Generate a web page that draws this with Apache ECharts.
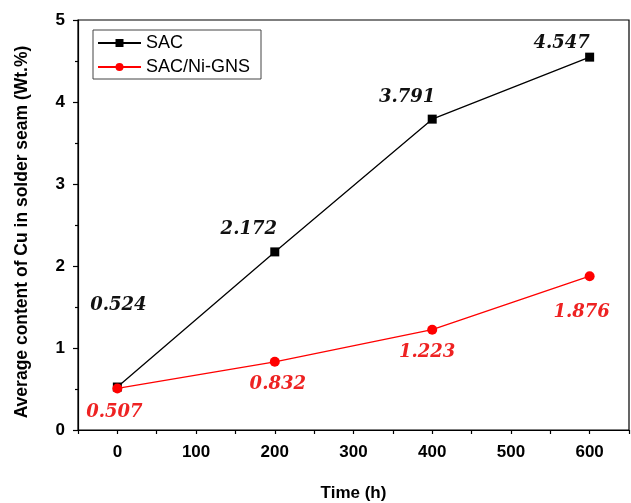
<!DOCTYPE html>
<html>
<head>
<meta charset="utf-8">
<script src="https://cdn.jsdelivr.net/npm/echarts@6/dist/echarts.min.js"></script>
<style>
  html, body { margin: 0; padding: 0; background: #fff; }
  #main { width: 631px; height: 503px; }
</style>
</head>
<body>
<div id="main"></div>
<script>
// data
var times = [0, 200, 400, 600];
var sac = [0.524, 2.172, 3.791, 4.547];
var sacNi = [0.507, 0.832, 1.223, 1.876];
var seriesNames = ['SAC', 'SAC/Ni-GNS'];

// label offsets (px) relative to each point
var sacOffsets = [[1, -82], [-26, -23], [-25, -22], [-28, -14]];
var niOffsets = [[-3, 24], [3, 23], [-5, 23], [-8, 36]];

var tickFont = "'Liberation Sans Narrow', 'Liberation Sans', Arial, sans-serif";

function pts(xs, ys, offs, color) {
    var out = [];
    for (var i = 0; i < xs.length; i++) {
        out.push({
            value: [xs[i], ys[i]],
            label: {
                show: true,
                position: 'inside',
                offset: offs[i],
                formatter: ys[i].toFixed(3),
                color: color,
                fontFamily: 'DejaVu Serif',
                fontStyle: 'italic',
                fontWeight: 'bold',
                fontSize: 18
            }
        });
    }
    return out;
}

var myChart = echarts.init(document.getElementById('main'));
var option = {
    backgroundColor: '#fff',
    animation: false,
    grid: {
        left: 78,
        right: 2,
        top: 20,
        bottom: 73,
        outerBoundsMode: 'none',
        show: true,
        borderColor: '#000',
        borderWidth: 1.2
    },
    legend: {
        orient: 'vertical',
        left: 93,
        top: 30,
        data: seriesNames,
        borderColor: '#444',
        borderWidth: 1,
        padding: [4, 11, 3, 4],
        itemWidth: 43,
        itemHeight: 10,
        itemGap: 6,
        textStyle: {
            fontFamily: 'Liberation Sans',
            fontSize: 18,
            color: '#000'
        }
    },
    xAxis: {
        type: 'value',
        min: -50,
        max: 650,
        interval: 50,
        name: 'Time (h)',
        nameLocation: 'middle',
        nameGap: 55,
        nameTextStyle: {
            fontFamily: 'Liberation Sans',
            fontWeight: 'bold',
            fontSize: 17,
            color: '#000'
        },
        axisLine: { onZero: false, lineStyle: { color: '#000', width: 1.2 } },
        axisTick: { length: 4, lineStyle: { color: '#000', width: 1.2 } },
        axisLabel: {
            margin: 14,
            fontFamily: tickFont,
            fontWeight: 'bold',
            fontSize: 17,
            color: '#000',
            formatter: function (v) { return v % 100 === 0 ? String(v) : ''; }
        },
        splitLine: { show: false }
    },
    yAxis: {
        type: 'value',
        min: 0,
        max: 5,
        interval: 1,
        name: 'Average content of Cu in solder seam (Wt.%)',
        nameLocation: 'middle',
        nameGap: 47,
        nameTextStyle: {
            fontFamily: 'Liberation Sans',
            fontWeight: 'bold',
            fontSize: 17.5,
            color: '#000',
            padding: [0, 14, 0, 0]
        },
        axisLine: { show: true, onZero: false, lineStyle: { color: '#000', width: 1.2 } },
        axisTick: { length: 5, lineStyle: { color: '#000', width: 1.2 } },
        minorTick: { show: true, splitNumber: 2, length: 3, lineStyle: { color: '#000', width: 1.2 } },
        axisLabel: {
            margin: 13,
            fontFamily: tickFont,
            fontWeight: 'bold',
            fontSize: 17,
            color: '#000'
        },
        splitLine: { show: false },
        minorSplitLine: { show: false }
    },
    series: [
        {
            name: seriesNames[0],
            type: 'line',
            data: pts(times, sac, sacOffsets, '#111'),
            symbol: 'rect',
            symbolSize: 9,
            itemStyle: { color: '#000' },
            lineStyle: { color: '#000', width: 1.3 }
        },
        {
            name: seriesNames[1],
            type: 'line',
            data: pts(times, sacNi, niOffsets, '#ee2222'),
            symbol: 'circle',
            symbolSize: 10,
            itemStyle: { color: '#ff0000' },
            lineStyle: { color: '#ff0000', width: 1.3 }
        }
    ]
};
myChart.setOption(option);
</script>
</body>
</html>
